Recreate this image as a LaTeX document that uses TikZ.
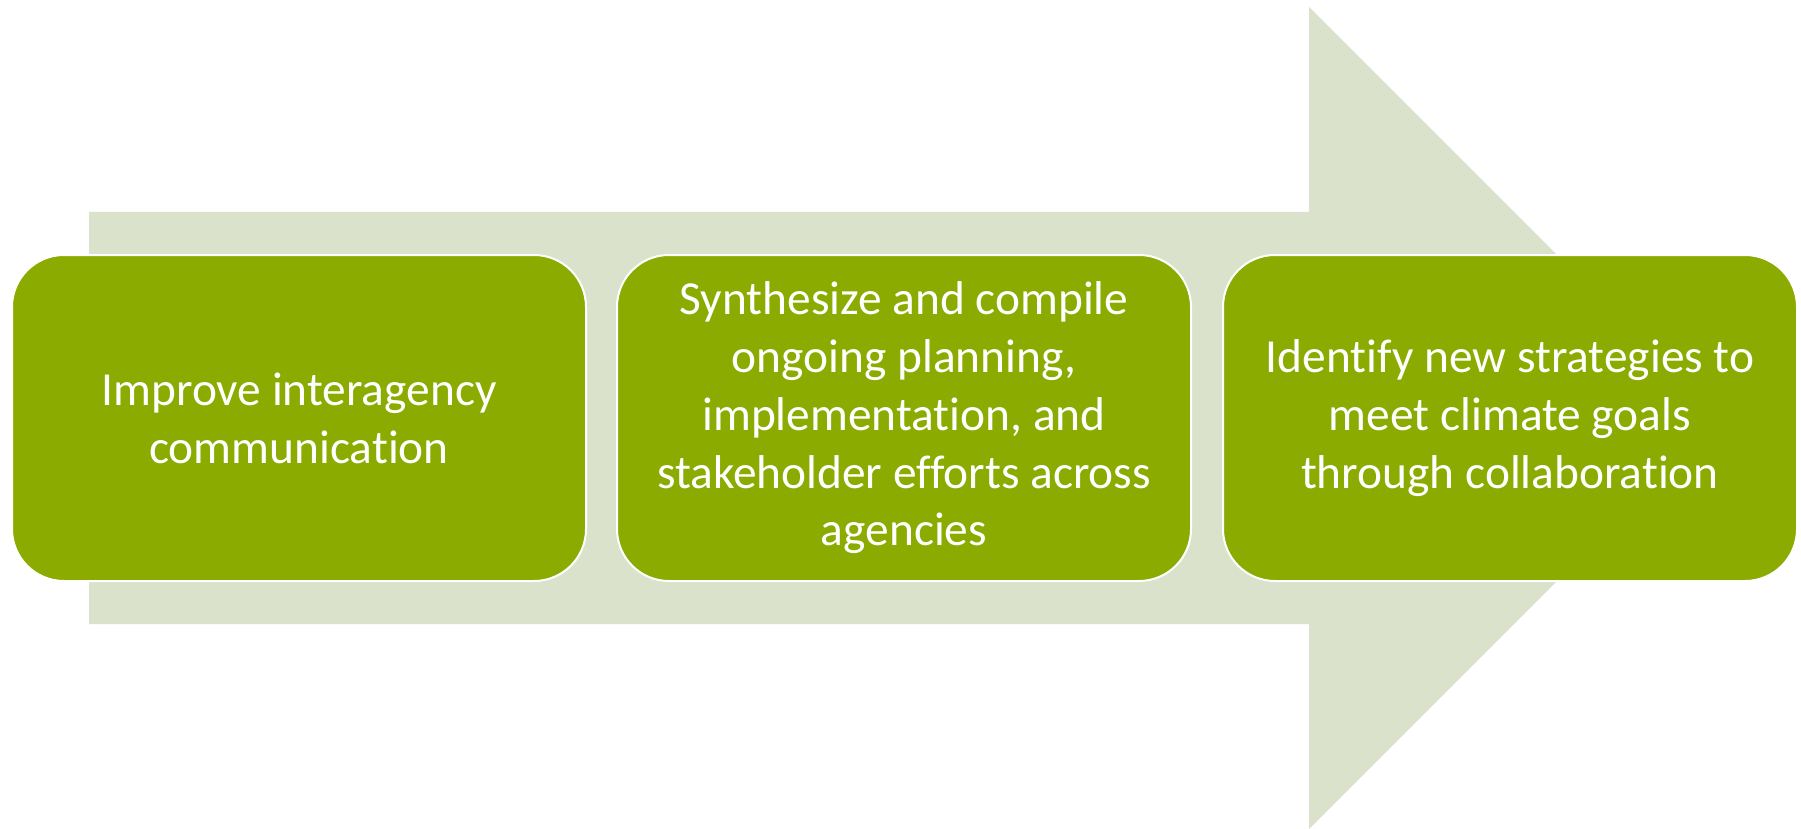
\documentclass[tikz,border=0pt]{standalone}
\usepackage{fontspec}
\setmainfont{Carlito}[Ligatures=NoCommon]
\definecolor{boxgreen}{RGB}{139,171,0}
\definecolor{arrowgray}{RGB}{219,226,204}
\tikzset{
  stepbox/.style={draw=white, line width=2pt, fill=boxgreen, rounded corners=52pt,
    minimum width=574pt, minimum height=326pt, inner sep=0pt, align=center,
    text=white, font=\fontsize{47.4}{57.8}\selectfont},
  bigarrow/.style={fill=arrowgray, draw=none}
}
\begin{document}
\begin{tikzpicture}[x=1pt,y=-1pt]
\useasboundingbox (0,0) rectangle (1801,829);
\fill[white] (0,0) rectangle (1801,829);
\path[bigarrow] (89,212) -- (1309,212) -- (1309,7) -- (1720,418) -- (1309,829) -- (1309,624) -- (89,624) -- cycle;
\node[stepbox] (b1) at (299,418) {Improve interagency\\communication};
\node[stepbox] (b2) at (904,418) {Synthesize and compile\\ongoing planning,\\implementation, and\\stakeholder efforts across\\agencies};
\node[stepbox] (b3) at (1510,418) {Identify new strategies to\\meet climate goals\\through collaboration};
\end{tikzpicture}
\end{document}
